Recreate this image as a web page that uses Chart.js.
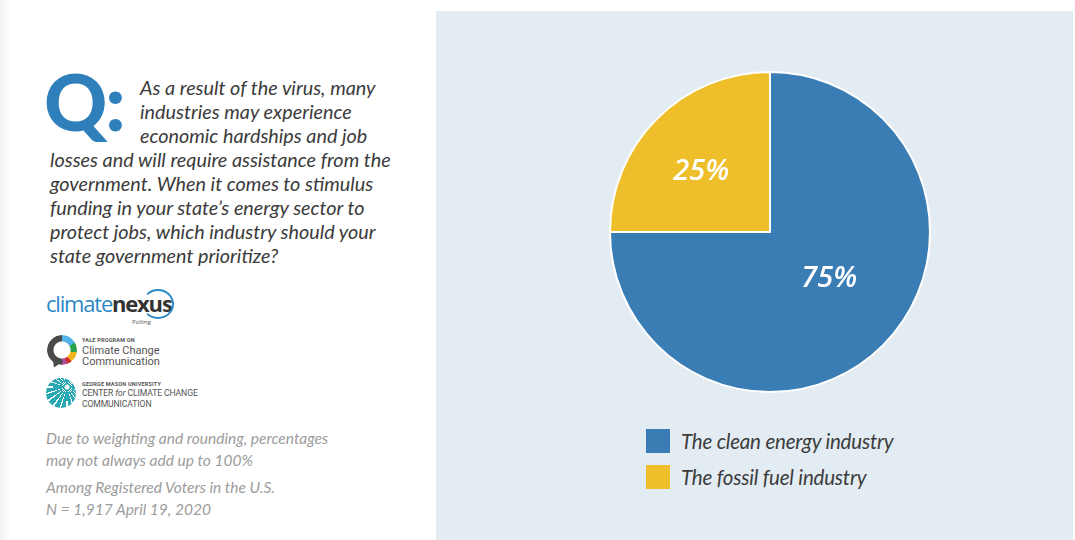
<!DOCTYPE html>
<html lang="en">
<head>
  <meta charset="UTF-8">
  <title>Stimulus funding priority</title>
  <script src="https://cdn.jsdelivr.net/npm/chart.js"></script>
  <style>
    html, body { margin: 0; padding: 0; }
    body { width: 1075px; height: 540px; position: relative; overflow: hidden; background: #fff; font-family: Lato, "Open Sans", sans-serif; }
    .edge { position: absolute; left: 0; top: 0; width: 9px; height: 540px; background: linear-gradient(to right, #f3f3f3, #fbfbfb); }
    .q { position: absolute; left: 44px; top: 56px; font-size: 78px; font-weight: 900; color: #2f7fbb; letter-spacing: -2px; line-height: 90px; }
    .question { position: absolute; left: 50px; top: 75px; font-size: 19.8px; font-style: italic; color: #3b3b3b; line-height: 24px; letter-spacing: 0; }
    .question .ind { padding-left: 90px; }
    .note { position: absolute; left: 46px; font-size: 15.5px; font-style: italic; color: #9c9c9c; line-height: 22px; }
    .logo { position: absolute; left: 46px; }
    .cn { top: 291px; font-size: 22px; line-height: 24px; letter-spacing: -1.2px; font-family: "Open Sans", sans-serif; }
    .cn .a { color: #2b88c6; }
    .cn .b { color: #333; font-weight: bold; }
    .cn .ring { position: absolute; left: 96px; top: -2px; width: 28px; height: 26px; border: 2px solid #2b88c6; border-radius: 50%; border-left-color: transparent; }
    .cn .poll { position: absolute; left: 86px; top: 28px; font-size: 6px; line-height: 6px; color: #555; letter-spacing: 0; }
    .yale-ring { position: absolute; left: 47px; top: 335px; width: 30px; height: 30px; border-radius: 50%;
      background: conic-gradient(#4fb3e8 0 60deg, #2ba24c 60deg 100deg, #f2b51b 100deg 140deg, #c8312c 140deg 160deg, #b04c9a 160deg 180deg, #4a4a4a 180deg 360deg);
      -webkit-mask: radial-gradient(circle, transparent 8px, #000 9px); }
    .yale-tail { position: absolute; left: 50px; top: 358px; width: 0; height: 0; border-left: 6px solid transparent; border-right: 6px solid transparent; border-top: 10px solid #4a4a4a; transform: rotate(25deg); }
    .ltxt { position: absolute; left: 82px; color: #555; font-family: Roboto, sans-serif; }
    .tiny { font-size: 5.5px; line-height: 6px; font-weight: bold; letter-spacing: 0.2px; }
    .mid { font-size: 11px; line-height: 11px; }
    .gmu { position: absolute; left: 46px; top: 378px; width: 30px; height: 30px; border-radius: 50%;
      background: radial-gradient(circle at 70% 30%, #fff 0 2px, transparent 3px), repeating-conic-gradient(from 200deg at 70% 30%, #2aa8b4 0 14deg, #fff 14deg 18deg), #2aa8b4; }
    .panel { position: absolute; left: 436px; top: 11px; width: 637px; height: 529px; background: #e3ebf3; }
    .chart-box { position: absolute; left: 600px; top: 62px; width: 340px; height: 340px; }
    .legend { position: absolute; left: 646px; top: 423px; margin: 0; padding: 0; list-style: none; }
    .legend li { height: 36px; display: flex; align-items: center; font-size: 20.5px; font-style: italic; color: #3c3c3c; letter-spacing: -0.2px; }
    .legend span { display: inline-block; width: 24px; height: 24px; margin-right: 11px; }
  </style>
</head>
<body>

  <div class="edge"></div>

  <div class="q">Q:</div>
  <div class="question">
    <div class="ind">As a result of the virus, many</div>
    <div class="ind">industries may experience</div>
    <div class="ind">economic hardships and job</div>
    <div>losses and will require assistance from the</div>
    <div>government. When it comes to stimulus</div>
    <div>funding in your state’s energy sector to</div>
    <div>protect jobs, which industry should your</div>
    <div>state government prioritize?</div>
  </div>

  <div class="logo cn"><span class="a">climate</span><span class="b">nexus</span><div class="ring"></div><div class="poll">Polling</div></div>

  <div class="yale-ring"></div>
  <div class="yale-tail"></div>
  <div class="ltxt tiny" style="top:337px">YALE PROGRAM ON</div>
  <div class="ltxt mid" style="top:345px">Climate Change<br>Communication</div>

  <div class="gmu"></div>
  <div class="ltxt tiny" style="top:381px">GEORGE MASON UNIVERSITY</div>
  <div class="ltxt mid" style="top:388px; font-size:8.6px; line-height:11px; letter-spacing:-0.1px">CENTER <i>for</i> CLIMATE CHANGE<br>COMMUNICATION</div>

  <div class="note" style="top:427px">Due to weighting and rounding, percentages<br>may not always add up to 100%</div>
  <div class="note" style="top:476px">Among Registered Voters in the U.S.<br>N = 1,917 April 19, 2020</div>

  <div class="panel"></div>
  <div class="chart-box"><canvas id="pie"></canvas></div>
  <ul class="legend" id="legend"></ul>

  <script>
    // datos
    const categories = ['The clean energy industry', 'The fossil fuel industry'];
    const shares = [75, 25];
    const colors = ['#3a7db5', '#eebf2b'];

    // etiquetas dentro de cada porción
    const sliceLabels = {
      id: 'sliceLabels',
      afterDatasetsDraw(chart, args, opts) {
        const ctx = chart.ctx;
        const meta = chart.getDatasetMeta(0);
        ctx.save();
        ctx.fillStyle = '#fff';
        ctx.font = 'italic 600 29px "Open Sans", sans-serif';
        ctx.textAlign = 'center';
        ctx.textBaseline = 'middle';
        meta.data.forEach((arc, i) => {
          const p = opts.place[i];
          const a = (arc.startAngle + arc.endAngle) / 2 + p.shift * Math.PI / 180;
          const r = arc.outerRadius * p.dist;
          ctx.fillText(shares[i] + '%', arc.x + Math.cos(a) * r, arc.y + Math.sin(a) * r);
        });
        ctx.restore();
      }
    };

    new Chart(document.getElementById('pie'), {
      type: 'pie',
      data: {
        labels: categories,
        datasets: [{
          data: shares,
          backgroundColor: colors,
          borderColor: '#ffffff',
          borderWidth: 2
        }]
      },
      options: {
        responsive: true,
        maintainAspectRatio: false,
        animation: false,
        radius: 160,
        plugins: {
          legend: { display: false },
          tooltip: { enabled: false },
          sliceLabels: { place: [{ dist: 0.47, shift: -7 }, { dist: 0.57, shift: -4 }] }
        }
      },
      plugins: [sliceLabels]
    });

    // leyenda a mano
    const legend = document.getElementById('legend');
    categories.forEach((c, i) => {
      const li = document.createElement('li');
      li.innerHTML = '<span style="background:' + colors[i] + '"></span>' + c;
      legend.appendChild(li);
    });
  </script>

</body>
</html>
